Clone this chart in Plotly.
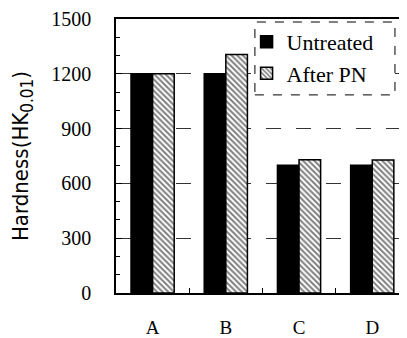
import plotly.graph_objects as go

categories = ["A", "B", "C", "D"]
untreated = [1200, 1200, 700, 700]
after_pn = [1200, 1305, 730, 728]
y_ticks = [0, 300, 600, 900, 1200, 1500]

serif = "Liberation Serif, Times New Roman, serif"

fig = go.Figure()
fig.add_trace(go.Bar(
    x=categories, y=untreated, name="Untreated",
    marker=dict(color="black", line=dict(color="black", width=1.5)),
))
fig.add_trace(go.Bar(
    x=categories, y=after_pn, name="After PN",
    marker=dict(color="white", line=dict(color="black", width=1.5),
                pattern=dict(shape="\\", fgcolor="black", bgcolor="white",
                             size=4, solidity=0.5)),
))

# the page body adds an 8px margin, so the figure is 8px smaller than the window
fig.update_layout(
    width=399, height=330,
    margin=dict(l=108, r=4, t=11, b=45, autoexpand=False),
    paper_bgcolor="white", plot_bgcolor="white",
    barmode="group", bargap=0.41, bargroupgap=0,
    showlegend=True,
    legend=dict(x=0.455, y=0.993, xanchor="left", yanchor="top",
                bgcolor="rgba(0,0,0,0)", borderwidth=0,
                font=dict(family=serif, size=22, color="black"),
                tracegroupgap=0),
    font=dict(family=serif, color="black"),
)

fig.update_xaxes(
    range=[-0.5, 3.42], showline=True, linecolor="black", linewidth=1.5,
    mirror=True, ticks="inside", tickson="boundaries", ticklen=5,
    tickcolor="black", tickfont=dict(family=serif, size=19, color="black"),
    ticklabelstandoff=16, showgrid=False, automargin=False,
)
fig.update_yaxes(
    range=[0, 1500], tickvals=y_ticks, showline=True, linecolor="black",
    linewidth=1.5, ticks="inside", ticklen=6, tickcolor="black",
    tickfont=dict(family=serif, size=20, color="black"),
    ticklabelstandoff=19, automargin=False,
    showgrid=True, gridcolor="#333", gridwidth=1, griddash="longdash",
    minor=dict(dtick=100, ticks="inside", ticklen=4, tickcolor="black", showgrid=False),
    title=dict(text="Hardness(HK<sub><span style='font-size:17px'>0.01</span></sub>)",
               font=dict(family="DejaVu Sans Condensed, Liberation Sans Narrow, sans-serif",
                         size=22, color="black"),
               standoff=20),
    zeroline=False,
)

# dashed legend frame (white fill hides the gridline) and faint right border
fig.add_shape(type="rect", xref="paper", yref="paper",
              x0=0.484, x1=0.972, y0=0.723, y1=0.989,
              fillcolor="white",
              line=dict(color="black", width=1, dash="dash"), layer="above")
fig.add_shape(type="line", xref="paper", yref="paper",
              x0=1, x1=1, y0=0, y1=1,
              line=dict(color="#999", width=1, dash="dot"))

fig.write_html("out.html")
